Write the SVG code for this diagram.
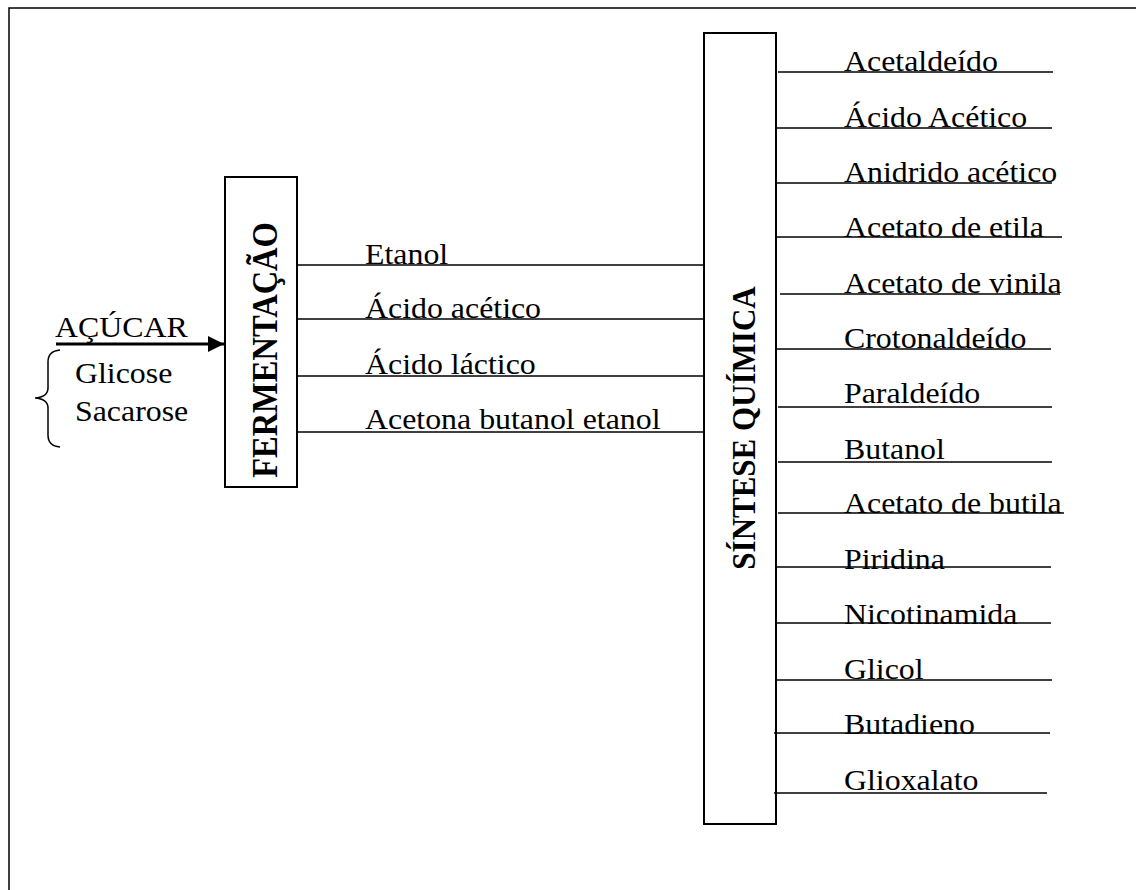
<svg xmlns="http://www.w3.org/2000/svg" width="1136" height="890" viewBox="0 0 1136 890">
  <defs>
    <marker id="arrowhead" markerWidth="16" markerHeight="16" refX="16" refY="8" orient="auto" markerUnits="userSpaceOnUse">
      <path d="M0,0 L16,8 L0,16 Z" fill="#000"/>
    </marker>
    <style>
      .frame { fill: none; stroke: #000; stroke-width: 1.5; }
      .box { fill: #fff; stroke: #000; stroke-width: 2; }
      .link { stroke: #000; stroke-width: 1.5; fill: none; }
      .lbl { font-family: "Liberation Serif", "Times New Roman", serif; font-size: 30.5px; fill: #000; }
      .vlbl { font-family: "Liberation Serif", "Times New Roman", serif; font-weight: bold; fill: #000; text-anchor: middle; }
    </style>
  </defs>
  <rect width="1136" height="890" fill="#fff"/>
  <!-- outer frame, open past the right and bottom edges -->
  <rect class="frame" x="9" y="8" width="1150" height="900"/>

  <!-- input: sugar feed -->
  <g id="input-sugar">
    <line x1="56" y1="344" x2="224" y2="344" stroke="#000" stroke-width="3" marker-end="url(#arrowhead)"/>
    <text class="lbl" transform="translate(55,337) scale(1.045,1)">AÇÚCAR</text>
    <path class="link" d="M60,350 Q48,351 48,362 L48,388 Q48,397 35,398 Q48,399 48,408 L48,435 Q48,446 60,447"/>
    <text class="lbl" transform="translate(75,383) scale(1.045,1)">Glicose</text>
    <text class="lbl" transform="translate(75,421) scale(1.045,1)">Sacarose</text>
  </g>

  <!-- fermentation step -->
  <g id="node-fermentacao">
    <rect class="box" x="225" y="177" width="72" height="310"/>
    <text class="vlbl" font-size="32.5" transform="translate(277,350) scale(1.1,1) rotate(-90)">FERMENTAÇÃO</text>
  </g>

  <!-- chemical synthesis step -->
  <g id="node-sintese">
    <rect class="box" x="704" y="33" width="72" height="791"/>
    <text class="vlbl" font-size="31" transform="translate(755,428) scale(1.1,1) rotate(-90)">SÍNTESE QUÍMICA</text>
  </g>

  <!-- connectors -->
  <g id="connectors">
    <line class="link" x1="298" y1="265" x2="704" y2="265"/>
    <line class="link" x1="298" y1="319" x2="704" y2="319"/>
    <line class="link" x1="298" y1="376" x2="704" y2="376"/>
    <line class="link" x1="298" y1="432" x2="704" y2="432"/>

    <line class="link" x1="778" y1="72" x2="1053" y2="72"/>
    <line class="link" x1="776" y1="128" x2="1052" y2="128"/>
    <line class="link" x1="776" y1="183" x2="1052" y2="183"/>
    <line class="link" x1="776" y1="237" x2="1062" y2="237"/>
    <line class="link" x1="780" y1="294" x2="1060" y2="294"/>
    <line class="link" x1="776" y1="349" x2="1051" y2="349"/>
    <line class="link" x1="778" y1="407" x2="1052" y2="407"/>
    <line class="link" x1="778" y1="462" x2="1052" y2="462"/>
    <line class="link" x1="778" y1="513" x2="1064" y2="513"/>
    <line class="link" x1="776" y1="567" x2="1051" y2="567"/>
    <line class="link" x1="776" y1="623" x2="1051" y2="623"/>
    <line class="link" x1="776" y1="680" x2="1052" y2="680"/>
    <line class="link" x1="774" y1="733" x2="1050" y2="733"/>
    <line class="link" x1="774" y1="793" x2="1047" y2="793"/>
  </g>

  <!-- fermentation products -->
  <g id="products-fermentacao">
    <text class="lbl" transform="translate(365,264) scale(1.045,1)">Etanol</text>
    <text class="lbl" transform="translate(365,318) scale(1.045,1)">Ácido acético</text>
    <text class="lbl" transform="translate(365,374) scale(1.045,1)">Ácido láctico</text>
    <text class="lbl" transform="translate(365,429) scale(1.045,1)">Acetona butanol etanol</text>
  </g>

  <!-- synthesis products -->
  <g id="products-sintese">
    <text class="lbl" transform="translate(844,71) scale(1.045,1)">Acetaldeído</text>
    <text class="lbl" transform="translate(844,127) scale(1.045,1)">Ácido Acético</text>
    <text class="lbl" transform="translate(844,182) scale(1.045,1)">Anidrido acético</text>
    <text class="lbl" transform="translate(844,237) scale(1.045,1)">Acetato de etila</text>
    <text class="lbl" transform="translate(844,293) scale(1.045,1)">Acetato de vinila</text>
    <text class="lbl" transform="translate(844,348) scale(1.045,1)">Crotonaldeído</text>
    <text class="lbl" transform="translate(844,403) scale(1.045,1)">Paraldeído</text>
    <text class="lbl" transform="translate(844,459) scale(1.045,1)">Butanol</text>
    <text class="lbl" transform="translate(844,513) scale(1.045,1)">Acetato de butila</text>
    <text class="lbl" transform="translate(844,569) scale(1.045,1)">Piridina</text>
    <text class="lbl" transform="translate(844,624) scale(1.045,1)">Nicotinamida</text>
    <text class="lbl" transform="translate(844,679) scale(1.045,1)">Glicol</text>
    <text class="lbl" transform="translate(844,734) scale(1.045,1)">Butadieno</text>
    <text class="lbl" transform="translate(844,790) scale(1.045,1)">Glioxalato</text>
  </g>
</svg>
